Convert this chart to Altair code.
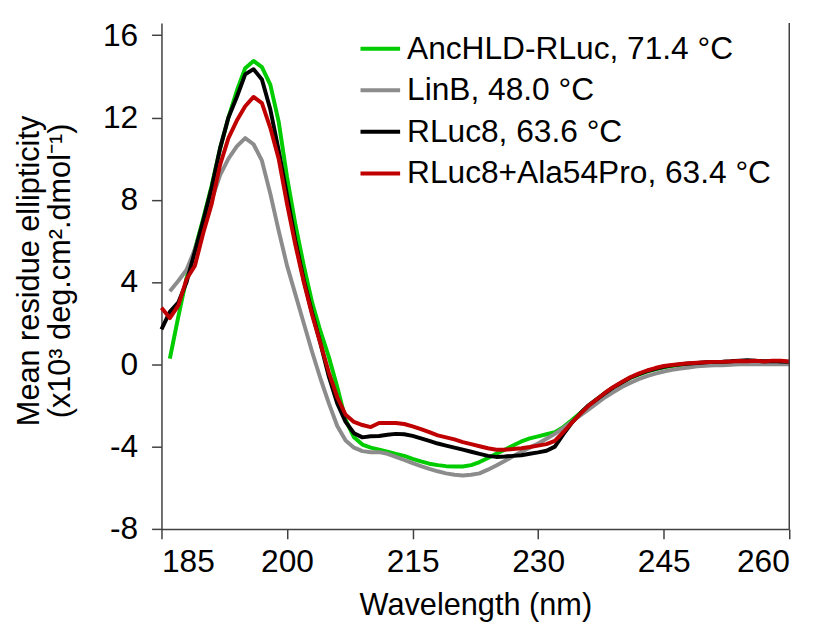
import altair as alt
import pandas as pd

wavelength = list(range(185, 261))

anchld_rluc = [None, 0.28, 2.3, 4.2, 5.6, 7.1, 8.7, 10.5, 12.0, 13.3,
               14.4, 14.75, 14.45, 13.6, 11.8, 9.1, 6.8, 4.8, 3.0, 1.6,
               0.35, -1.1, -2.7, -3.55, -3.9, -4.05, -4.15, -4.25, -4.35, -4.45,
               -4.6, -4.72, -4.83, -4.9, -4.95, -4.97, -4.97, -4.9, -4.75, -4.55,
               -4.35, -4.15, -3.95, -3.75, -3.6, -3.5, -3.4, -3.3, -3.05, -2.72,
               -2.38, -2.02, -1.7, -1.4, -1.12, -0.88, -0.66, -0.5, -0.35, -0.24,
               -0.14, -0.08, -0.03, 0.0, 0.03, 0.05, 0.07, 0.08, 0.1, 0.12,
               0.13, 0.12, 0.12, 0.12, 0.12, 0.1]

linb = [None, 3.55, 4.05, 4.6, 5.6, 6.8, 8.0, 9.2, 10.0, 10.6,
        11.0, 10.7, 9.9, 8.3, 6.5, 4.8, 3.4, 2.0, 0.6, -0.7,
        -1.9, -3.0, -3.7, -4.05, -4.22, -4.27, -4.27, -4.35, -4.5, -4.65,
        -4.8, -4.95, -5.08, -5.2, -5.3, -5.37, -5.4, -5.37, -5.3, -5.12,
        -4.92, -4.7, -4.47, -4.25, -4.05, -3.85, -3.62, -3.38, -3.1, -2.8,
        -2.5, -2.2, -1.9, -1.6, -1.35, -1.1, -0.9, -0.72, -0.57, -0.45,
        -0.35, -0.27, -0.2, -0.15, -0.1, -0.07, -0.05, -0.04, -0.02, 0.0,
        0.0, 0.0, 0.0, 0.0, 0.0, 0.0]

rluc8 = [1.7, 2.55, 3.0, 4.0, 5.5, 7.0, 8.6, 10.5, 12.0, 13.0,
         14.1, 14.35, 13.85, 12.4, 10.4, 8.2, 6.0, 4.1, 2.5, 1.0,
         -0.6, -1.9, -2.8, -3.35, -3.55, -3.5, -3.48, -3.42, -3.38, -3.4,
         -3.48, -3.6, -3.72, -3.85, -3.95, -4.05, -4.15, -4.25, -4.35, -4.45,
         -4.5, -4.48, -4.45, -4.42, -4.35, -4.28, -4.2, -4.0, -3.4, -2.85,
         -2.4, -2.0, -1.7, -1.4, -1.12, -0.88, -0.65, -0.48, -0.33, -0.22,
         -0.12, -0.05, 0.0, 0.04, 0.07, 0.1, 0.12, 0.13, 0.15, 0.18,
         0.2, 0.17, 0.15, 0.16, 0.14, 0.12]

rluc8_ala54pro = [2.75, 2.25, 2.85, 4.15, 4.8, 6.4, 7.8, 9.7, 11.0, 11.85,
                  12.55, 13.0, 12.7, 11.5, 10.0, 7.8, 5.8, 4.0, 2.4, 1.0,
                  -0.4, -1.6, -2.45, -2.8, -2.95, -3.05, -2.85, -2.85, -2.85, -2.9,
                  -3.02, -3.15, -3.3, -3.45, -3.55, -3.65, -3.78, -3.88, -3.98, -4.08,
                  -4.15, -4.15, -4.12, -4.08, -4.02, -3.95, -3.88, -3.72, -3.3, -2.85,
                  -2.42, -2.02, -1.7, -1.38, -1.1, -0.86, -0.63, -0.45, -0.3, -0.18,
                  -0.08, -0.03, 0.02, 0.05, 0.08, 0.1, 0.12, 0.12, 0.14, 0.16,
                  0.15, 0.17, 0.14, 0.18, 0.17, 0.14]

series_names = ["AncHLD-RLuc, 71.4 °C", "LinB, 48.0 °C", "RLuc8, 63.6 °C",
                "RLuc8+Ala54Pro, 63.4 °C"]
series_colors = ["#00CC00", "#8C8C8C", "#000000", "#C00000"]

x_ticks = [185, 200, 215, 230, 245, 260]
y_ticks = [-8, -4, 0, 4, 8, 12, 16]

rows = []
for k, (name, vals) in enumerate(zip(series_names,
                                     [anchld_rluc, linb, rluc8, rluc8_ala54pro])):
    for w, v in zip(wavelength, vals):
        if v is not None:
            rows.append({"wl": w, "val": v, "series": name, "k": k})
df = pd.DataFrame(rows)

FONT = "Liberation Sans"
W, H = 634, 511

xscale = alt.Scale(domain=[185, 260], nice=False, zero=False)
yscale = alt.Scale(domain=[-8, 16.6], nice=False, zero=False)

axis_common = dict(grid=False, tickSize=10, domainColor="#404040", tickColor="#404040",
                   domainWidth=1.5, tickWidth=1.5, labelFont=FONT, titleFont=FONT,
                   labelFontSize=32, titleFontSize=31, labelColor="#000000",
                   titleColor="#000000", titleFontWeight="normal",
                   labelExpr="'' + datum.value")

lines = alt.Chart(df).mark_line(strokeWidth=4, strokeJoin="round").encode(
    x=alt.X("wl:Q", scale=xscale,
            axis=alt.Axis(values=x_ticks, title="Wavelength (nm)", labelPadding=8,
                          titleY=86, titleBaseline="alphabetic", **axis_common)),
    y=alt.Y("val:Q", scale=yscale,
            axis=alt.Axis(values=y_ticks,
                          title=["Mean residue ellipticity", "(x10³ deg.cm².dmol⁻¹)"],
                          labelPadding=14, titleX=-117, titleY=250, titleLineHeight=31,
                          titleBaseline="bottom", **axis_common)),
    color=alt.Color("series:N", scale=alt.Scale(domain=series_names, range=series_colors),
                    legend=alt.Legend(orient="none", legendX=199, legendY=4, title=None,
                                      symbolType="stroke", symbolSize=1600,
                                      symbolStrokeWidth=4, labelFontSize=32,
                                      labelFont=FONT, labelOffset=5, rowPadding=4,
                                      padding=0, labelLimit=0, labelColor="#000000")),
    order=alt.Order("k:Q"),
)

border = alt.Chart(pd.DataFrame({"wl": [260]})).mark_rule(
    color="#404040", strokeWidth=1.5).encode(
    x=alt.X("wl:Q", scale=xscale), y=alt.value(0), y2=alt.value(H))

chart = alt.layer(lines, border).properties(
    width=W, height=H,
    autosize=alt.AutoSizeParams(type="none"),
    padding={"left": 155, "top": 12, "right": 26, "bottom": 93},
).configure_view(stroke=None)

chart.save("out.html", embed_options={"renderer": "svg", "actions": False})
